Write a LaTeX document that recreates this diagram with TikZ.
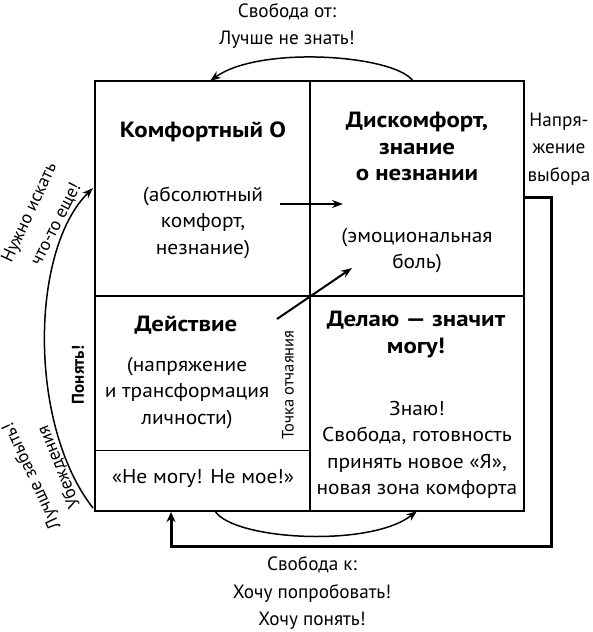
\documentclass[tikz,border=0pt]{standalone}
\usepackage{fontspec}
\setmainfont{PT Sans}
\newfontfamily\cellfont{PT Sans}[FakeStretch=1.07]
\newfontfamily\headfont{PT Sans}[FakeStretch=1.13]
\usetikzlibrary{arrows.meta}
\begin{document}
\begin{tikzpicture}[x=1pt,y=-1pt,
  txt/.style={font=\fontsize{19.2}{27.5}\selectfont, align=center, inner sep=0pt},
  ctxt/.style={font=\cellfont\fontsize{20}{26.5}\selectfont, align=center, inner sep=0pt},
  btxt/.style={font=\headfont\fontsize{22}{26.5}\selectfont\bfseries, align=center, inner sep=0pt},
  rtxt/.style={font=\fontsize{18}{24}\selectfont, inner sep=0pt},
  stxt/.style={font=\fontsize{16.5}{20}\selectfont, inner sep=0pt},
  sbtxt/.style={font=\fontsize{17}{20}\selectfont\bfseries, inner sep=0pt},
  boxline/.style={line width=2pt},
  thinline/.style={line width=1pt},
  arcarrow/.style={line width=1.5pt, -{Stealth[length=11pt,width=8pt]}},
  midarrow/.style={line width=2pt, -{Stealth[length=11pt,width=8pt]}},
  fbarrow/.style={line width=3pt, line join=miter, -{Stealth[length=10pt,width=9pt]}}]
\useasboundingbox (0,0) rectangle (592,632);
% grid corners
\coordinate (TL) at (95,81);
\coordinate (TR) at (524,81);
\coordinate (BL) at (95,511);
\coordinate (BR) at (524,511);
\coordinate (TM) at (310,81);
\coordinate (BM) at (310,511);
\coordinate (ML) at (95,296);
\coordinate (MR) at (524,296);
\coordinate (C) at (310,296);
\coordinate (SL) at (95,450);
\coordinate (SM) at (310,450);
\draw[boxline] (TL) rectangle (BR);
\draw[boxline] (TM) -- (BM);
\draw[boxline] (ML) -- (MR);
\draw[thinline] (SL) -- (SM);
% texts in cells
\node[btxt] (komf) at (203,132) {Комфортный О};
\node[ctxt] (abs) at (203,222.5) {(абсолютный\\комфорт,\\незнание)};
\node[btxt] (disk) at (417,146.5) {Дискомфорт,\\знание\\о незнании};
\node[ctxt] (emo) at (417,250.5) {(эмоциональная\\боль)};
\node[btxt] (delau) at (416,334.5) {Делаю — значит\\могу!};
\node[ctxt] (znau) at (417,450) {Знаю!\\Свобода, готовность\\принять новое «Я»,\\новая зона комфорта};
\node[btxt] (deist) at (186,325) {Действие};
\node[ctxt] (napr) at (187,393) {(напряжение\\и трансформация\\личности)};
\node[ctxt] (nemogu) at (203,479) {«Не могу! Не мое!»};
\node[stxt, rotate=90] (tochka) at (288,385) {Точка отчаяния};
% outside texts
\node[sbtxt, rotate=90] (ponyat) at (78,375) {Понять!};
\node[txt] (vybor) at (559,149) {Напря-\\жение\\выбора};
\node[txt] (svk) at (312,593) {Свобода к:\\Хочу попробовать!\\Хочу понять!};
\node[txt] (svot) at (287,26) {Свобода от:\\Лучше не знать!};
\node[rtxt, rotate=65] (nuzh) at (30,213) {Нужно искать};
\node[rtxt, rotate=63] (chto) at (56,224) {что-то еще!};
\node[rtxt, rotate=115] (luch) at (32,476) {Лучше забыть!};
\node[rtxt, rotate=112] (ubezh) at (59,467) {Убеждения};
% arcs
\coordinate (a1s) at (413,81);
\coordinate (a1e) at (210,81);
\draw[arcarrow] (a1s) .. controls (395,55) and (260,45) .. (a1e);
\coordinate (a2s) at (215,511);
\coordinate (a2e) at (417,511);
\draw[arcarrow] (a2s) .. controls (233,540) and (370,548) .. (a2e);
\coordinate (a3s) at (93,508);
\coordinate (a3e) at (93,188);
\draw[arcarrow] (a3s) .. controls (28,425) and (30,250) .. (a3e);
% middle arrows
\coordinate (m1s) at (280,204);
\coordinate (m1e) at (343,204);
\draw[midarrow] (m1s) -- (m1e);
\coordinate (m2s) at (277,319);
\coordinate (m2e) at (352,268);
\draw[midarrow] (m2s) -- (m2e);
% feedback line
\coordinate (fb1) at (524,197);
\coordinate (fb2) at (551,197);
\coordinate (fb3) at (551,546);
\coordinate (fb4) at (171,546);
\coordinate (fb5) at (171,512);
\draw[fbarrow] (fb1) -- (fb2) -- (fb3) -- (fb4) -- (fb5);
\end{tikzpicture}
\end{document}
